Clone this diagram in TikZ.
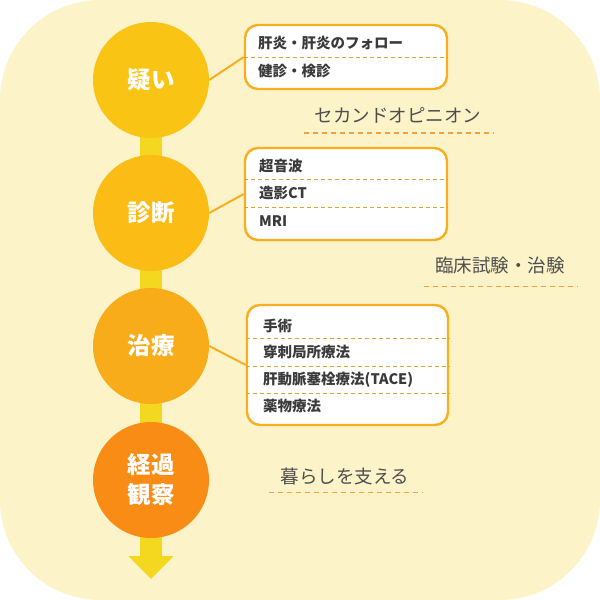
\documentclass[tikz,border=0pt]{standalone}
\usepackage{fontspec}
\setmainfont{Noto Sans CJK JP}
\usepackage{tikz}
\usetikzlibrary{calc,arrows.meta}
\definecolor{bg}{HTML}{FDF3C9}
\definecolor{spinec}{HTML}{F3D81F}
\definecolor{stepa}{HTML}{FAC415}
\definecolor{stepb}{HTML}{FABC15}
\definecolor{stepc}{HTML}{F9AC1A}
\definecolor{stepd}{HTML}{F98C15}
\definecolor{rim}{HTML}{F8AE1E}
\definecolor{rowc}{HTML}{DBA62A}
\definecolor{note}{HTML}{F7A23C}
\definecolor{ink}{HTML}{3A3A3A}
\tikzset{
  stage/.style={circle, minimum size=116pt, inner sep=0pt, text=white, align=center,
    font=\fontsize{23.5}{30}\selectfont\bfseries},
  card/.style={draw=rim, fill=white, line width=2.4pt, rounded corners=13pt, inner sep=0pt},
  link/.style={draw=rim, line width=2pt},
  rowline/.style={draw=rowc, line width=1pt, dash pattern=on 4pt off 3pt},
  spine/.style={draw=spinec, line width=22pt, -{Triangle[width=44pt,length=23pt]}},
  item/.style={text=ink, anchor=west, inner sep=0pt, font=\fontsize{14.5}{16}\selectfont\bfseries},
  lab/.style={text=ink!90, inner sep=0pt, font=\fontsize{18.5}{20}\selectfont},
  labline/.style={draw=note, line width=1.2pt, dash pattern=on 5pt off 4pt},
}

\begin{document}
\begin{tikzpicture}[x=1pt,y=-1pt]
  \useasboundingbox (0,0) rectangle (600,600);
  \fill[bg, rounded corners=100pt] (0,0) rectangle (600,600);

  % spine behind the stages
  \coordinate (top) at (151,80);
  \coordinate (tip) at (151,579);
  \draw[spine] (top) -- (tip);

  \node[stage, fill=stepa] (doubt) at (151,80)  {疑い};
  \node[stage, fill=stepb] (diag)  at (151,213) {診断};
  \node[stage, fill=stepc] (treat) at (151,346) {治療};
  \node[stage, fill=stepd] (watch) at (151,480) {経過\\観察};

  % cards
  \node[card, minimum width=202pt, minimum height=64pt]  (qbox) at (346,57)    {};
  \node[card, minimum width=202pt, minimum height=92pt]  (dbox) at (346,194)   {};
  \node[card, minimum width=201pt, minimum height=120pt] (tbox) at (347.5,365) {};

  \draw[link] (doubt.east) -- (qbox.west);
  \draw[link] (diag.east)  -- (dbox.west);
  \draw[link] (treat.east) -- (tbox.west);

  \draw[rowline] (qbox.west) -- (qbox.east);
  \foreach \y in {179,207}{
    \draw[rowline] (dbox.west |- 0,\y) -- (dbox.east |- 0,\y);
  }
  \foreach \y in {338,366,393}{
    \draw[rowline] (tbox.west |- 0,\y) -- (tbox.east |- 0,\y);
  }

  \foreach \y/\t in {43/肝炎・肝炎のフォロー,71/健診・検診}{
    \node[item] at (258,\y) {\t};
  }
  \foreach \y/\t in {166/超音波,193/造影CT,221/MRI}{
    \node[item] at (259,\y) {\t};
  }
  \foreach \y/\t in {326/手術,352/穿刺局所療法,380/肝動脈塞栓療法(TACE),406/薬物療法}{
    \node[item] at (263,\y) {\t};
  }

  % side notes
  \node[lab] (second) at (398,115) {セカンドオピニオン};
  \node[lab] (trial)  at (500,265) {臨床試験・治験};
  \node[lab] (life)   at (345,476) {暮らしを支える};
  \foreach \n/\d in {second/-10,trial/-13,life/-8}{
    \draw[labline] ([xshift=-11pt,yshift=\d pt]\n.south west) -- ([xshift=13pt,yshift=\d pt]\n.south east);
  }
\end{tikzpicture}
\end{document}
